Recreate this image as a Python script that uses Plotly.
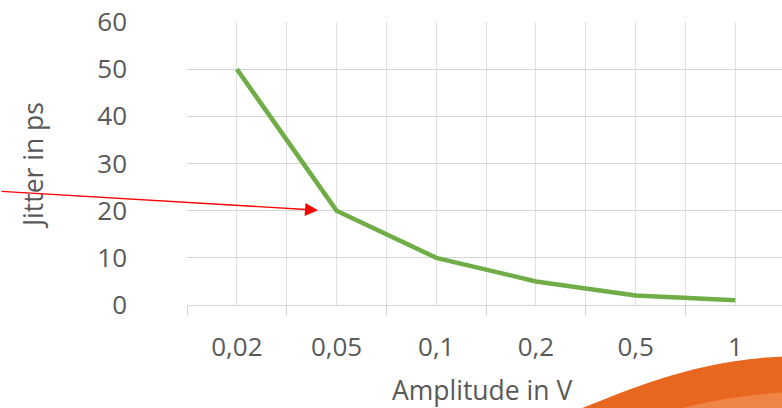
import plotly.graph_objects as go

# ---- data ----
categories = ["0,02", "0,05", "0,1", "0,2", "0,5", "1"]
jitter_ps = [50, 20, 10, 5, 2, 1]
y_ticks = [0, 10, 20, 30, 40, 50, 60]

W, H = 782, 408
L, R, T, B = 187, 0, 22, 103
PW, PH = W - L - R, H - T - B


def px(x):
    return (x - L) / PW


def py(y):
    return (H - B - y) / PH


xpos = list(range(len(categories)))
bounds = [i - 0.5 for i in xpos]

TXT = "#595959"
FONT = "Open Sans"

fig = go.Figure()
fig.add_trace(go.Scatter(
    x=xpos, y=jitter_ps, mode="lines",
    line=dict(color="#70ad47", width=4.5),
    hoverinfo="skip", showlegend=False,
))

fig.update_layout(
    width=W, height=H,
    margin=dict(l=L, r=R, t=T, b=B, pad=0),
    paper_bgcolor="white", plot_bgcolor="white",
    font=dict(family=FONT, color=TXT, size=26),
    showlegend=False,
    xaxis=dict(
        type="linear",
        range=[-0.5, -0.5 + PW / 99.7],
        tickmode="array", tickvals=xpos, ticktext=categories,
        ticks="", showgrid=True, gridcolor="#e0e0e0", gridwidth=1.3,
        showline=True, linecolor="#d4d4d4", linewidth=1.4,
        zeroline=False,
        ticklabelstandoff=19,
        tickfont=dict(family=FONT, size=26, color=TXT),
        minor=dict(tickmode="array", tickvals=bounds, ticks="outside",
                   ticklen=10, tickwidth=1.3, tickcolor="#d4d4d4",
                   showgrid=True, gridcolor="#e0e0e0", gridwidth=1.3),
        fixedrange=True,
    ),
    yaxis=dict(
        range=[0, 60], tickmode="array", tickvals=y_ticks,
        ticks="", showgrid=True, gridcolor="#d6d6d6", gridwidth=1.3,
        zeroline=False, showline=False,
        ticklabelstandoff=59,
        tickfont=dict(family=FONT, size=26, color=TXT),
        fixedrange=True,
    ),
)

# axis titles
fig.add_annotation(text="Amplitude in V", xref="paper", yref="paper",
                   x=px(482), y=py(390), xanchor="center", yanchor="middle",
                   showarrow=False, font=dict(family=FONT, size=26.5, color=TXT))
fig.add_annotation(text="Jitter in ps", xref="paper", yref="paper",
                   x=px(33), y=py(165), xanchor="center", yanchor="middle",
                   textangle=-90, showarrow=False,
                   font=dict(family=FONT, size=26.5, color=TXT))

# red arrow
fig.add_annotation(x=0.814, y=20.1, xref="x", yref="y", text="",
                   showarrow=True, arrowhead=2, arrowsize=2, arrowwidth=1.3,
                   arrowcolor="#ff0000", ax=-318, ay=-19, standoff=0)

# orange swoosh decoration (bottom right)
def path_px(cmds):
    out = []
    for c in cmds:
        if isinstance(c, str):
            out.append(c)
        else:
            out.append(f"{px(c[0]):.5f},{py(c[1]):.5f}")
    return " ".join(out)

dark = path_px(["M", (577, 410), "C", (630, 390), (690, 360), (790, 356),
                "L", (790, 410), "Z"])
light = path_px(["M", (675, 410), "C", (705, 402), (740, 395), (790, 392),
                 "L", (790, 410), "Z"])
fig.add_shape(type="path", path=dark, xref="paper", yref="paper",
              fillcolor="#e8671f", line=dict(width=0), layer="above")
fig.add_shape(type="path", path=light, xref="paper", yref="paper",
              fillcolor="#ef8447", line=dict(width=0), layer="above")

fig.write_html("out.html", config={"displayModeBar": False})
